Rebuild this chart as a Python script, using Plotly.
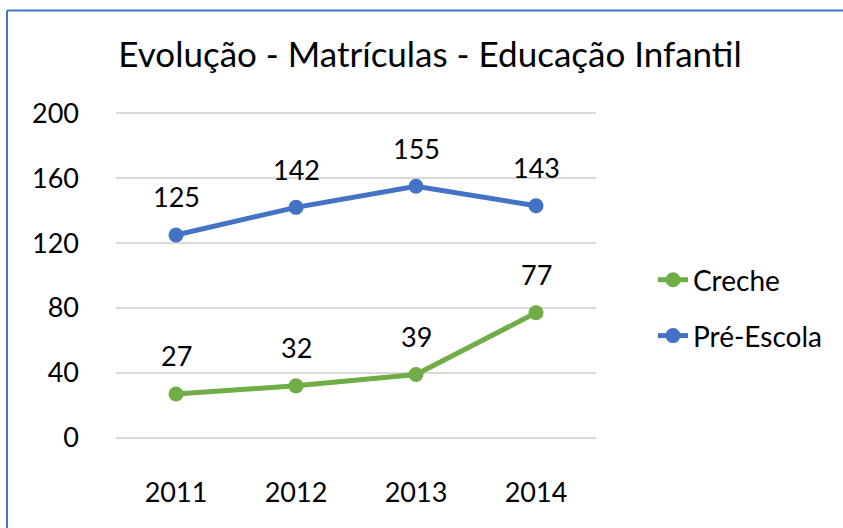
import plotly.graph_objects as go

years = ["2011", "2012", "2013", "2014"]
creche = [27, 32, 39, 77]
pre_escola = [125, 142, 155, 143]
y_ticks = [0, 40, 80, 120, 160, 200]

GREEN = "#70AD47"
BLUE = "#4472C4"
BORDER = "#3B7BC4"
FONT = "Lato"

W, H = 843, 528
# plot area: 0 -> y=438 px, 200 -> y=113 px; axis range padded by 2 units each side
PAD = 2
PPU = (438 - 113) / 200.0
L, R = 116, 596
T, B = 113 - PAD * PPU, 438 + PAD * PPU

fig = go.Figure()
fig.add_trace(go.Scatter(x=years, y=creche, name="Creche", mode="lines+markers",
                         line=dict(color=GREEN, width=5), marker=dict(size=15, color=GREEN),
                         legend="legend", showlegend=True))
fig.add_trace(go.Scatter(x=years, y=pre_escola, name="Pré-Escola", mode="lines+markers",
                         line=dict(color=BLUE, width=5), marker=dict(size=15, color=BLUE),
                         legend="legend2", showlegend=True))

anns = []
for series in (creche, pre_escola):
    for i, yv in enumerate(series):
        anns.append(dict(x=i, y=yv, xref="x", yref="y", text=str(yv), showarrow=False, yshift=38,
                         font=dict(family=FONT, size=27, color="#000000")))

def px_x(p):
    return (p - L) / (R - L)

def px_y(p):
    return (B - p) / (B - T)

fig.update_layout(
    width=W, height=H,
    showlegend=True,
    margin=dict(l=L, r=W - R, t=T, b=H - B, autoexpand=False),
    paper_bgcolor="white", plot_bgcolor="white",
    font=dict(family=FONT, size=27, color="#000000"),
    title=dict(text="Evolução - Matrículas - Educação Infantil", xref="container", yref="container",
               x=430 / W, y=1 - 55 / H, xanchor="center", yanchor="middle",
               font=dict(family=FONT, size=35, color="#000000")),
    xaxis=dict(type="category", range=[-0.5, 3.5], showgrid=False, showline=False, zeroline=False,
               ticks="", tickfont=dict(size=27), ticklabelstandoff=int(round(36 - PAD * PPU))),
    yaxis=dict(range=[-PAD, 200 + PAD], tickvals=y_ticks, showgrid=True, gridcolor="#D9D9D9", gridwidth=1.5,
               zeroline=False, showline=False, ticks="", tickfont=dict(size=27), ticklabelstandoff=36),
    legend=dict(x=px_x(653), y=px_y(280), xanchor="left", yanchor="middle",
                font=dict(size=28), bgcolor="rgba(0,0,0,0)"),
    legend2=dict(x=px_x(653), y=px_y(336), xanchor="left", yanchor="middle",
                 font=dict(size=28), bgcolor="rgba(0,0,0,0)"),
    annotations=anns,
    shapes=[
        dict(type="line", xref="paper", yref="paper", x0=px_x(7), x1=px_x(900), y0=px_y(10), y1=px_y(10),
             line=dict(color=BORDER, width=2), layer="above"),
        dict(type="line", xref="paper", yref="paper", x0=px_x(7), x1=px_x(7), y0=px_y(10), y1=px_y(600),
             line=dict(color=BORDER, width=2), layer="above"),
    ],
)

fig.write_html("out.html", config={"displayModeBar": False},
               post_script="document.body.style.margin='0';document.body.style.overflow='hidden';")
